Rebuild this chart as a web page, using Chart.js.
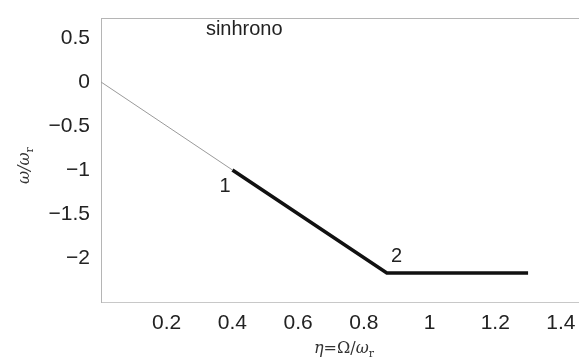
<!DOCTYPE html>
<html>
<head>
<meta charset="utf-8">
<script src="https://cdn.jsdelivr.net/npm/chart.js@4"></script>
<style>
  html, body { margin: 0; padding: 0; background: #fff; }
  #wrap { width: 579px; height: 359px; }
</style>
</head>
<body>
<div id="wrap"><canvas id="myChart" width="579" height="359"></canvas></div>
<script>
// eta = Omega / omega_r
const etaThin = [0, 0.4];
const omegaThin = [0, -1];
const etaThick = [0.4, 0.87, 1.3];
const omegaThick = [-1, -2.17, -2.17];

const xTicks = [0.2, 0.4, 0.6, 0.8, 1, 1.2, 1.4];
const yTicks = [-2, -1.5, -1, -0.5, 0, 0.5];

// text notes placed in data coordinates
const noteText = ['1', '2', 'sinhrono'];
const noteEta = [0.378, 0.9, 0.436];
const noteOmega = [-1.19, -1.98, 0.6];

function fmt(v) {
    return String(v).replace('-', '\u2212');
}

// draws frame lines, notes and the axis titles
const extras = {
    id: 'extras',
    afterDraw(chart) {
        const ctx = chart.ctx;
        const a = chart.chartArea;
        const xs = chart.scales.x, ys = chart.scales.y;
        ctx.save();
        ctx.strokeStyle = '#b5b5b5';
        ctx.lineWidth = 1;
        ctx.beginPath();
        ctx.moveTo(a.left, a.top + 0.5);
        ctx.lineTo(a.right, a.top + 0.5);
        ctx.stroke();

        ctx.fillStyle = '#222';
        ctx.font = '20px "Liberation Sans", Arial, sans-serif';
        ctx.textAlign = 'center';
        ctx.textBaseline = 'middle';
        for (let i = 0; i < noteText.length; i++) {
            ctx.fillText(noteText[i], xs.getPixelForValue(noteEta[i]), ys.getPixelForValue(noteOmega[i]));
        }

        // x title: eta = Omega / omega_r
        ctx.fillStyle = '#333';
        ctx.textAlign = 'left';
        ctx.textBaseline = 'alphabetic';
        let x = 314, y = 353;
        ctx.font = 'italic 16px "DejaVu Serif", serif';
        ctx.fillText('\u03b7', x, y); x += ctx.measureText('\u03b7').width;
        ctx.font = '16px "DejaVu Serif", serif';
        ctx.fillText('=\u03a9/', x, y); x += ctx.measureText('=\u03a9/').width;
        ctx.font = 'italic 16px "DejaVu Serif", serif';
        ctx.fillText('\u03c9', x, y); x += ctx.measureText('\u03c9').width;
        ctx.font = '11px "DejaVu Serif", serif';
        ctx.fillText('r', x, y + 4);

        // y title: omega / omega_r
        ctx.translate(29, 184);
        ctx.rotate(-Math.PI / 2);
        x = 0; y = 0;
        ctx.font = 'italic 16px "DejaVu Serif", serif';
        ctx.fillText('\u03c9/\u03c9', x, y); x += ctx.measureText('\u03c9/\u03c9').width;
        ctx.font = '11px "DejaVu Serif", serif';
        ctx.fillText('r', x, y + 4);
        ctx.restore();
    }
};

const ctx = document.getElementById('myChart').getContext('2d');
const myChart = new Chart(ctx, {
    type: 'line',
    data: {
        datasets: [{
            data: etaThin.map((v, i) => ({ x: v, y: omegaThin[i] })),
            borderColor: '#9a9a9a',
            borderWidth: 1,
            pointRadius: 0
        }, {
            data: etaThick.map((v, i) => ({ x: v, y: omegaThick[i] })),
            borderColor: '#111',
            borderWidth: 3.5,
            pointRadius: 0
        }]
    },
    options: {
        responsive: false,
        animation: false,
        layout: { padding: { top: 18, right: 0, left: 0, bottom: 0 } },
        plugins: { legend: { display: false }, tooltip: { enabled: false } },
        scales: {
            x: {
                type: 'linear',
                min: 0,
                max: 1.455,
                afterBuildTicks: s => { s.ticks = xTicks.map(v => ({ value: v })); },
                afterFit: s => { s.height = 57; s.paddingRight = 0; s.paddingLeft = 0; },
                grid: { display: false },
                border: { color: '#c8c8c8', width: 1 },
                ticks: {
                    color: '#222',
                    font: { family: '"Liberation Sans", Arial, sans-serif', size: 21 },
                    padding: 1,
                    maxRotation: 0,
                    autoSkip: false,
                    callback: v => fmt(v)
                }
            },
            y: {
                type: 'linear',
                min: -2.5,
                max: 0.727,
                afterBuildTicks: s => { s.ticks = yTicks.map(v => ({ value: v })); },
                afterFit: s => { s.width = 101; s.paddingTop = 0; s.paddingBottom = 0; },
                grid: { display: false },
                border: { color: '#b5b5b5', width: 1 },
                ticks: {
                    color: '#222',
                    font: { family: '"Liberation Sans", Arial, sans-serif', size: 21 },
                    padding: 3,
                    callback: v => fmt(v)
                }
            }
        }
    },
    plugins: [extras]
});
</script>
</body>
</html>
